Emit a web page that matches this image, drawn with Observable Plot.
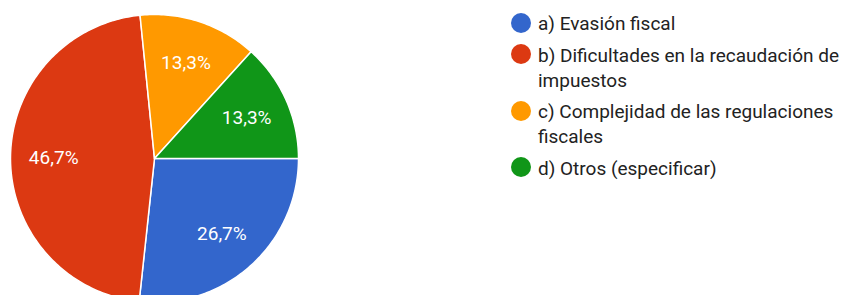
<!DOCTYPE html>
<html>
<head>
<meta charset="utf-8">
<script src="https://cdn.jsdelivr.net/npm/d3@7"></script>
<script src="https://cdn.jsdelivr.net/npm/@observablehq/plot@0.6"></script>
<style>
  html, body { margin: 0; padding: 0; background: #fff; overflow: hidden; }
  #wrap { position: relative; width: 849px; height: 295px; }
  #legend { position: absolute; left: 511px; top: 11px; font-family: Roboto, sans-serif; font-size: 19px; color: #222; line-height: 25px; }
  .item { display: flex; align-items: flex-start; margin-bottom: 6.5px; }
  .sw { width: 20px; height: 20px; border-radius: 50%; flex: none; margin-top: 1.5px; margin-right: 7px; }
  .lab { width: 312px; }
</style>
</head>
<body>
<div id="wrap"><div id="chart"></div><div id="legend"></div></div>
<script>
const categories = ["a) Evasión fiscal", "b) Dificultades en la recaudación de impuestos", "c) Complejidad de las regulaciones fiscales", "d) Otros (especificar)"];
const values = [26.7, 46.7, 13.3, 13.3];
const labels = ["26,7%", "46,7%", "13,3%", "13,3%"];
const colors = ["#3366cc", "#dc3912", "#ff9900", "#109618"];

const data = categories.map((c, i) => ({category: c, value: values[i], label: labels[i]}));
const arcs = d3.pie().sort(null).value(d => d.value).startAngle(Math.PI / 2).endAngle(Math.PI / 2 + 2 * Math.PI)(data);

const pts = [];
for (const a of arcs) {
  const n = Math.max(2, Math.ceil((a.endAngle - a.startAngle) * 60));
  pts.push({category: a.data.category, x: 0, y: 0});
  for (let k = 0; k <= n; k++) {
    const t = a.startAngle + (a.endAngle - a.startAngle) * k / n;
    pts.push({category: a.data.category, x: Math.sin(t), y: Math.cos(t)});
  }
  pts.push({category: a.data.category, x: 0, y: 0});
}
const lbl = arcs.map(a => {
  const m = (a.startAngle + a.endAngle) / 2;
  return {x: 0.7 * Math.sin(m), y: 0.7 * Math.cos(m), label: a.data.label};
});

const chart = Plot.plot({
  width: 849, height: 295,
  margin: 0,
  x: {domain: [-1, 1], range: [10, 298], axis: null},
  y: {domain: [-1, 1], range: [302, 14], axis: null},
  color: {domain: categories, range: colors},
  style: {overflow: "hidden"},
  marks: [
    Plot.line(pts, {x: "x", y: "y", z: "category", fill: "category", stroke: "white", strokeWidth: 1.5, strokeLinejoin: "round", curve: "linear"}),
    Plot.text(lbl, {x: "x", y: "y", text: "label", fill: "white", fontSize: 19, fontFamily: "Roboto, sans-serif"})
  ]
});
document.getElementById("chart").appendChild(chart);

const legend = document.getElementById("legend");
categories.forEach((c, i) => {
  const it = document.createElement("div");
  it.className = "item";
  it.innerHTML = `<span class="sw" style="background:${colors[i]}"></span><span class="lab">${c}</span>`;
  legend.appendChild(it);
});
</script>
</body>
</html>
